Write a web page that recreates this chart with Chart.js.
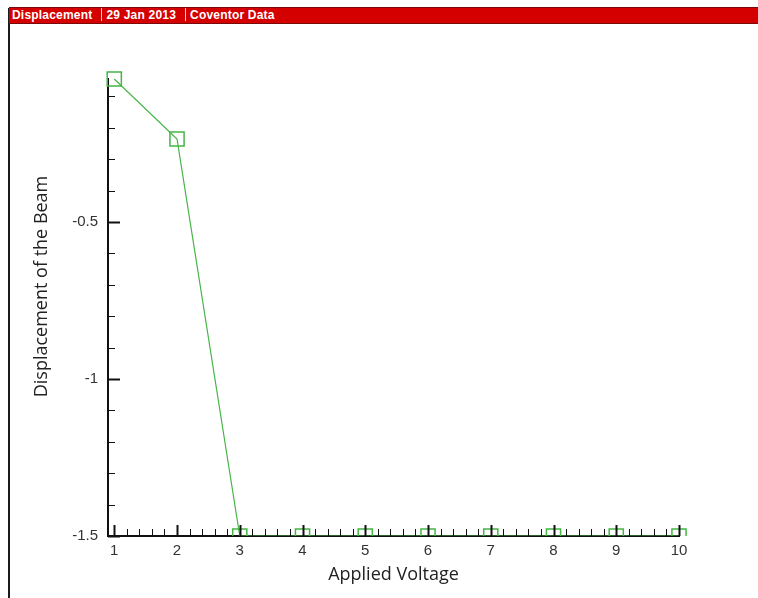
<!DOCTYPE html>
<html>
<head>
<meta charset="utf-8">
<script src="https://cdn.jsdelivr.net/npm/chart.js@4/dist/chart.umd.min.js"></script>
<style>
    html, body { margin: 0; padding: 0; background: #fff; }
    #wrap { position: relative; width: 758px; height: 598px; overflow: hidden; }
    #chart { position: absolute; left: 0; top: 0; }
    #header {
        position: absolute; left: 9px; top: 7px; width: 749px; height: 15px;
        background: #d40000; border-top: 1px solid #7a0a0a; border-bottom: 1px solid #7a0a0a;
        color: #fff; font: bold 12px "Liberation Sans", Arial, sans-serif; line-height: 15px;
        white-space: nowrap; letter-spacing: 0.2px;
    }
    #header span { display: inline-block; padding: 0 8px 0 4px; }
    #header span:first-child { padding-left: 3px; }
    #header span.sep { border-left: 1px solid #f4d0d0; height: 13px; vertical-align: -2px; padding: 0; margin-left: 1px; }
    #leftline { position: absolute; left: 8px; top: 8px; width: 2px; height: 590px; background: #1a1a1a; }
</style>
</head>
<body>
<div id="wrap">
    <canvas id="chart" width="758" height="598"></canvas>
    <div id="leftline"></div>
    <div id="header"><span>Displacement</span><span class="sep"></span><span>29 Jan 2013</span><span class="sep"></span><span>Coventor Data</span></div>
</div>
<script>
const voltage = [1, 2, 3, 4, 5, 6, 7, 8, 9, 10];
const displacement = [-0.045, -0.236, -1.5, -1.5, -1.5, -1.5, -1.5, -1.5, -1.5, -1.5];
const xTickValues = [1, 2, 3, 4, 5, 6, 7, 8, 9, 10];
const yTickValues = [-1.5, -1, -0.5];

const lineColor = '#45b545';
const labelFont = {family: '"Liberation Sans", Arial, sans-serif', size: 15};

// inner tick marks, major + minor, placed through the scales
const innerTicks = {
    id: 'innerTicks',
    afterDraw(chart) {
        const ctx = chart.ctx;
        const x = chart.scales.x, y = chart.scales.y;
        const area = chart.chartArea;
        ctx.save();
        ctx.strokeStyle = '#111';
        for (let i = 0; i <= 45; i++) {
            const v = 1 + i * 0.2;
            const major = i % 5 === 0;
            const px = Math.round(x.getPixelForValue(v)) + 0.5;
            ctx.lineWidth = major ? 2 : 1;
            ctx.beginPath();
            ctx.moveTo(px, area.bottom);
            ctx.lineTo(px, area.bottom - (major ? 11 : 7));
            ctx.stroke();
        }
        for (let i = 0; i <= 14; i++) {
            const v = -1.5 + i * 0.1;
            const major = i % 5 === 0;
            const py = Math.round(y.getPixelForValue(v)) + 0.5;
            ctx.lineWidth = major ? 2 : 1;
            ctx.beginPath();
            ctx.moveTo(area.left, py);
            ctx.lineTo(area.left + (major ? 12 : 7), py);
            ctx.stroke();
        }
        // y axis title
        ctx.fillStyle = '#222';
        ctx.font = '18px "Open Sans", sans-serif';
        ctx.textAlign = 'center';
        ctx.textBaseline = 'middle';
        ctx.translate(42, (area.top + area.bottom) / 2 - 21);
        ctx.rotate(-Math.PI / 2);
        ctx.fillText('Displacement of the Beam', 0, 0);
        ctx.restore();
    }
};

new Chart(document.getElementById('chart'), {
    type: 'line',
    data: {
        datasets: [{
            label: 'Displacement',
            data: voltage.map((v, i) => ({x: v, y: displacement[i]})),
            borderColor: lineColor,
            borderWidth: 1.2,
            pointStyle: 'rect',
            pointRadius: 10,
            pointBorderWidth: 1.5,
            pointBorderColor: lineColor,
            pointBackgroundColor: 'rgba(0,0,0,0)',
            tension: 0,
            clip: {left: 20, top: 20, right: 20, bottom: 0}
        }]
    },
    options: {
        responsive: false,
        animation: false,
        layout: {padding: {top: 79, right: 79, left: 0, bottom: 0}},
        plugins: {legend: {display: false}, tooltip: {enabled: false}},
        scales: {
            x: {
                type: 'linear',
                min: 0.9,
                max: 10,
                afterBuildTicks: (scale) => { scale.ticks = xTickValues.map(v => ({value: v})); },
                ticks: {
                    autoSkip: false,
                    maxRotation: 0,
                    padding: 6,
                    color: '#333',
                    font: labelFont,
                    callback: (v) => String(v)
                },
                grid: {display: false, drawTicks: false, tickLength: 0},
                border: {display: true, color: '#111', width: 2},
                title: {
                    display: true,
                    text: 'Applied Voltage',
                    color: '#222',
                    font: {family: '"Open Sans", sans-serif', size: 18},
                    padding: {top: 0, bottom: 12}
                },
                afterFit: (scale) => { scale.height = 62; }
            },
            y: {
                type: 'linear',
                min: -1.5,
                max: -0.045,
                afterBuildTicks: (scale) => { scale.ticks = yTickValues.map(v => ({value: v})); },
                ticks: {
                    autoSkip: false,
                    padding: 10,
                    color: '#333',
                    font: labelFont,
                    callback: (v) => String(v)
                },
                grid: {display: false, drawTicks: false, tickLength: 0},
                border: {display: true, color: '#111', width: 2},
                afterFit: (scale) => { scale.width = 108; }
            }
        }
    },
    plugins: [innerTicks]
});
</script>
</body>
</html>
